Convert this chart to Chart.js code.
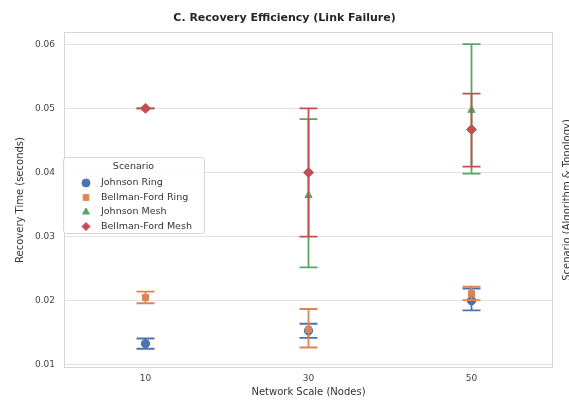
<!DOCTYPE html>
<html>
<head>
<meta charset="utf-8">
<script src="https://cdn.jsdelivr.net/npm/chart.js@4.4.1/dist/chart.umd.min.js"></script>
<style>
  html, body { margin: 0; padding: 0; background: #fff; }
  #wrap { width: 569px; height: 401px; }
</style>
</head>
<body>
<div id="wrap"><canvas id="c" width="569" height="401"></canvas></div>
<script>
const categories = ['10', '30', '50'];
const yTicks = [0.01, 0.02, 0.03, 0.04, 0.05, 0.06];
const names = ['Johnson Ring', 'Bellman-Ford Ring', 'Johnson Mesh', 'Bellman-Ford Mesh'];

const johnsonRing   = [0.0133, 0.0153, 0.0200];
const johnsonRingLo = [0.0125, 0.0142, 0.0185];
const johnsonRingHi = [0.0141, 0.0164, 0.0219];

const bellmanRing   = [0.0205, 0.0155, 0.0211];
const bellmanRingLo = [0.0196, 0.0127, 0.0201];
const bellmanRingHi = [0.0214, 0.0187, 0.0222];

const johnsonMesh   = [0.0500, 0.0364, 0.0497];
const johnsonMeshLo = [0.0500, 0.0252, 0.0398];
const johnsonMeshHi = [0.0500, 0.0483, 0.0600];

const bellmanMesh   = [0.0500, 0.0400, 0.0467];
const bellmanMeshLo = [0.0500, 0.0300, 0.0409];
const bellmanMeshHi = [0.0500, 0.0500, 0.0523];

const colors = ['#4C72B0', '#DD8452', '#55A868', '#C44E52'];
const styles = ['circle', 'rect', 'triangle', 'rectRot'];
const means = [johnsonRing, bellmanRing, johnsonMesh, bellmanMesh];
const lows = [johnsonRingLo, bellmanRingLo, johnsonMeshLo, bellmanMeshLo];
const highs = [johnsonRingHi, bellmanRingHi, johnsonMeshHi, bellmanMeshHi];

Chart.defaults.font.family = "'DejaVu Sans', sans-serif";

function drawMarker(ctx, style, r, x, y){ // рисуем маркер как у библиотеки
    if (Chart.helpers && Chart.helpers.drawPoint) {
        Chart.helpers.drawPoint(ctx, {pointStyle: style, radius: r, borderWidth: 1, rotation: 0}, x, y);
    } else {
        ctx.beginPath(); ctx.arc(x, y, r, 0, Math.PI * 2); ctx.fill(); ctx.stroke();
    }
}

const errorBars = { // усы погрешностей по шкалам
    id: 'errorBars',
    beforeDatasetDraw(chart, args) {
        const i = args.index;
        const ctx = chart.ctx, sx = chart.scales.x, sy = chart.scales.y;
        ctx.save();
        ctx.strokeStyle = colors[i];
        ctx.lineWidth = 1.8;
        lows[i].forEach(function(lo, k){
            const px = sx.getPixelForValue(k);
            const y1 = sy.getPixelForValue(lo), y2 = sy.getPixelForValue(highs[i][k]);
            ctx.beginPath();
            ctx.moveTo(px, y1); ctx.lineTo(px, y2);
            ctx.moveTo(px - 9, y1); ctx.lineTo(px + 9, y1);
            ctx.moveTo(px - 9, y2); ctx.lineTo(px + 9, y2);
            ctx.stroke();
        });
        ctx.restore();
    }
};

const decor = { // рамка, заголовок, легенда, правая подпись
    id: 'decor',
    beforeDatasetsDraw(chart) {
        const a = chart.chartArea, ctx = chart.ctx;
        ctx.save();
        ctx.strokeStyle = '#d6d6d6';
        ctx.lineWidth = 1;
        ctx.strokeRect(a.left + 0.5, a.top + 0.5, a.right - a.left - 1, a.bottom - a.top - 1);
        ctx.restore();
    },
    afterDraw(chart) {
        const a = chart.chartArea, ctx = chart.ctx;
        ctx.save();
        ctx.fillStyle = '#262626';
        ctx.font = "bold 11px 'DejaVu Sans'";
        ctx.textAlign = 'center';
        ctx.textBaseline = 'middle';
        ctx.fillText('C. Recovery Efficiency (Link Failure)', chart.width / 2, 18);

        // легенда
        const lx = 63, ly = 157, lw = 141, lh = 76;
        ctx.fillStyle = 'rgba(255,255,255,0.85)';
        ctx.strokeStyle = '#d6d6d6';
        ctx.beginPath();
        if (ctx.roundRect) { ctx.roundRect(lx + 0.5, ly + 0.5, lw, lh, 3); } else { ctx.rect(lx + 0.5, ly + 0.5, lw, lh); }
        ctx.fill(); ctx.stroke();
        ctx.fillStyle = '#333';
        ctx.font = "9.5px 'DejaVu Sans'";
        ctx.fillText('Scenario', lx + lw / 2, 167);
        ctx.textAlign = 'left';
        names.forEach(function(n, i){
            const yy = 183 + i * 14.5;
            ctx.fillStyle = colors[i];
            ctx.strokeStyle = colors[i];
            drawMarker(ctx, styles[i], 4, 86, yy);
            ctx.fillStyle = '#333';
            ctx.fillText(n, 101, yy);
        });

        // обрезанная подпись справа
        ctx.translate(567, (a.top + a.bottom) / 2);
        ctx.rotate(-Math.PI / 2);
        ctx.textAlign = 'center';
        ctx.fillStyle = '#333';
        ctx.font = "10px 'DejaVu Sans'";
        ctx.fillText('Scenario (Algorithm & Topology)', 0, 0);
        ctx.restore();
    }
};

const datasets = names.map(function(n, i){
    return {
        label: n,
        data: means[i],
        showLine: false,
        pointStyle: styles[i],
        pointRadius: styles[i] === 'rectRot' ? 5 : 4.2,
        pointBackgroundColor: colors[i],
        pointBorderColor: colors[i],
        pointBorderWidth: 1,
        order: 4 - i
    };
});

new Chart(document.getElementById('c'), {
    type: 'line',
    data: { labels: categories, datasets: datasets },
    options: {
        responsive: false,
        animation: false,
        layout: { padding: { top: 32, right: 16, left: 0, bottom: 0 } },
        plugins: { legend: { display: false }, tooltip: { enabled: false }, title: { display: false } },
        scales: {
            x: {
                type: 'category',
                offset: true,
                grid: { display: false, drawTicks: false },
                border: { display: false },
                ticks: { color: '#444', font: { size: 9 }, padding: 5 },
                title: { display: true, text: 'Network Scale (Nodes)', color: '#333', font: { size: 10 }, padding: { top: 0, bottom: 3 } },
                afterFit(s) { s.height = 33; }
            },
            y: {
                type: 'linear',
                min: 0.0095,
                max: 0.0619,
                afterBuildTicks(s) { s.ticks = yTicks.map(function(v){ return {value: v}; }); },
                grid: { color: '#e3e3e3', drawTicks: false },
                border: { display: false },
                ticks: { color: '#444', font: { size: 9 }, padding: 9, callback: function(v){ return v.toFixed(2); } },
                title: { display: true, text: 'Recovery Time (seconds)', color: '#333', font: { size: 10 }, padding: { top: 14, bottom: 0 } },
                afterFit(s) { s.width = 64; }
            }
        }
    },
    plugins: [errorBars, decor]
});
</script>
</body>
</html>
